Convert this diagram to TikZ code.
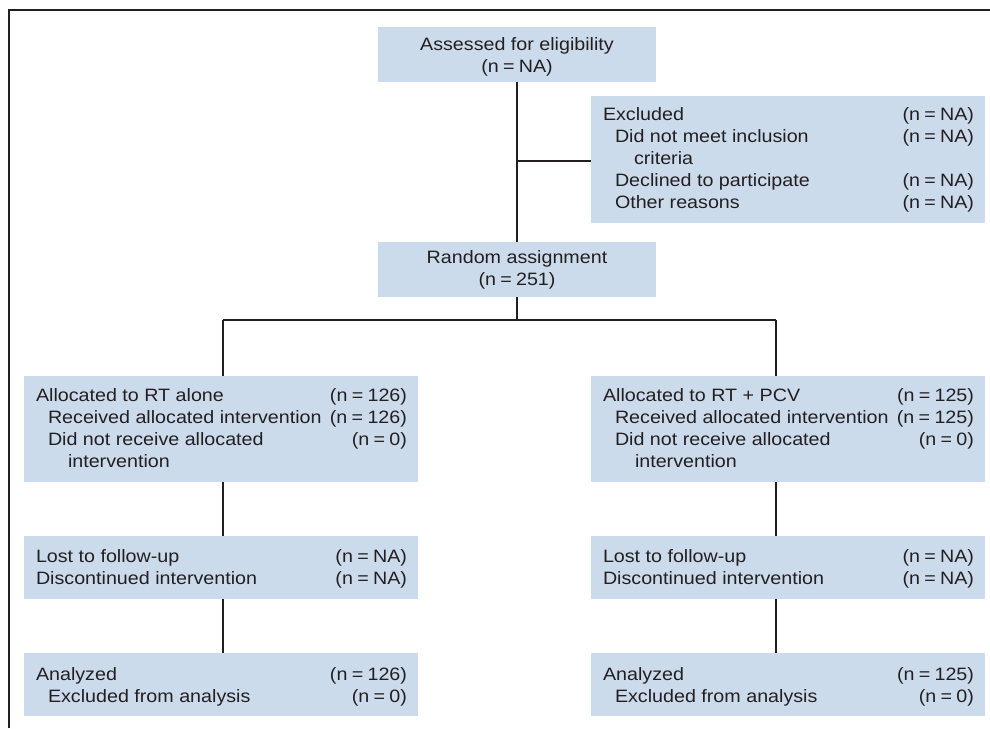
\documentclass[tikz,border=0pt]{standalone}
\usepackage{fontspec}
\setmainfont{Liberation Sans}[FakeStretch=1.10]
\usetikzlibrary{calc}
\definecolor{boxfill}{HTML}{CCDBEC}
\definecolor{ink}{HTML}{231F20}
\newcommand\nn[1]{(n\hspace{0.24em}=\hspace{0.24em}#1)}
\newcommand\rowline[3]{\makebox[371pt][l]{\hspace*{#1}#2\hfill #3}\\}
\newcommand\lastline[3]{\makebox[371pt][l]{\hspace*{#1}#2\hfill #3}}
\begin{document}
\begin{tikzpicture}[x=1pt,y=-1pt,
  box/.style={fill=boxfill, draw=none, inner sep=0pt, outer sep=0pt, anchor=north west},
  txt/.style={anchor=base west, inner sep=0pt, outer sep=0pt, text=ink, font=\fontsize{17.9}{22}\selectfont},
  conn/.style={draw=ink, line width=2.2pt},
  frame/.style={draw=ink, line width=2pt}]
\useasboundingbox (0,0) rectangle (990,728);
% frame
\coordinate (fbl) at (9,728);
\coordinate (ftl) at (9,10);
\coordinate (ftr) at (990,10);
\draw[frame] (fbl) -- (ftl) -- (ftr);
% boxes
\node[box, minimum width=278pt, minimum height=55pt] (ass) at (378,27) {};
\node[box, minimum width=394pt, minimum height=127pt] (exc) at (591,96) {};
\node[box, minimum width=278pt, minimum height=55pt] (rnd) at (378,242) {};
\node[box, minimum width=394pt, minimum height=106pt] (al) at (24,376) {};
\node[box, minimum width=394pt, minimum height=106pt] (ar) at (591,376) {};
\node[box, minimum width=394pt, minimum height=63pt] (ll) at (24,536) {};
\node[box, minimum width=394pt, minimum height=63pt] (lr) at (591,536) {};
\node[box, minimum width=394pt, minimum height=63pt] (nl) at (24,653) {};
\node[box, minimum width=394pt, minimum height=63pt] (nr) at (591,653) {};
% texts
\node[txt] (tass) at (378,50) {\parbox[t]{278pt}{\centering Assessed for eligibility\\\nn{NA}}};
\node[txt] (texc) at (603,120) {\parbox[t]{371pt}{%
  \rowline{0pt}{Excluded}{\nn{NA}}%
  \rowline{12pt}{Did not meet inclusion}{\nn{NA}}%
  \rowline{31pt}{criteria}{}%
  \rowline{12pt}{Declined to participate}{\nn{NA}}%
  \lastline{12pt}{Other reasons}{\nn{NA}}}};
\node[txt] (trnd) at (378,263) {\parbox[t]{278pt}{\centering Random assignment\\\nn{251}}};
\node[txt] (tal) at (36,401) {\parbox[t]{371pt}{%
  \rowline{0pt}{Allocated to RT alone}{\nn{126}}%
  \rowline{12pt}{Received allocated intervention}{\nn{126}}%
  \rowline{12pt}{Did not receive allocated}{\nn{0}}%
  \lastline{32pt}{intervention}{}}};
\node[txt] (tar) at (603,401) {\parbox[t]{371pt}{%
  \rowline{0pt}{Allocated to RT + PCV}{\nn{125}}%
  \rowline{12pt}{Received allocated intervention}{\nn{125}}%
  \rowline{12pt}{Did not receive allocated}{\nn{0}}%
  \lastline{32pt}{intervention}{}}};
\node[txt] (tll) at (36,562) {\parbox[t]{371pt}{%
  \rowline{0pt}{Lost to follow-up}{\nn{NA}}%
  \lastline{0pt}{Discontinued intervention}{\nn{NA}}}};
\node[txt] (tlr) at (603,562) {\parbox[t]{371pt}{%
  \rowline{0pt}{Lost to follow-up}{\nn{NA}}%
  \lastline{0pt}{Discontinued intervention}{\nn{NA}}}};
\node[txt] (tnl) at (36,680) {\parbox[t]{371pt}{%
  \rowline{0pt}{Analyzed}{\nn{126}}%
  \lastline{12pt}{Excluded from analysis}{\nn{0}}}};
\node[txt] (tnr) at (603,680) {\parbox[t]{371pt}{%
  \rowline{0pt}{Analyzed}{\nn{125}}%
  \lastline{12pt}{Excluded from analysis}{\nn{0}}}};
% connectors
\coordinate (L) at (223,320);
\coordinate (R) at (776,320);
\draw[conn] (ass.south) -- (rnd.north);
\draw[conn] (exc.west |- 0,161) -- (ass.south |- 0,161);
\draw[conn] (rnd.south) -- (rnd.south |- L);
\draw[conn] (L) -- (R);
\draw[conn] (L) -- (L |- al.north);
\draw[conn] (R) -- (R |- ar.north);
\draw[conn] (L |- al.south) -- (L |- ll.north);
\draw[conn] (R |- ar.south) -- (R |- lr.north);
\draw[conn] (L |- ll.south) -- (L |- nl.north);
\draw[conn] (R |- lr.south) -- (R |- nr.north);
\end{tikzpicture}
\end{document}
